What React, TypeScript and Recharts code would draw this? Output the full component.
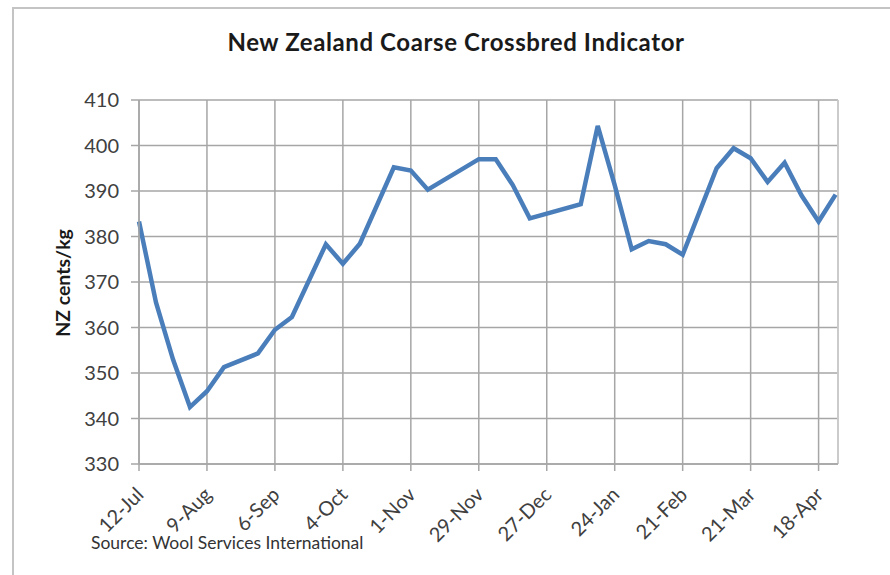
import { LineChart, Line, XAxis, YAxis, CartesianGrid, ReferenceLine } from 'recharts'

// weekly indicator dates (missing weeks are simply skipped, as in the source)
const weeks = [
  '2013-07-12', '2013-07-19', '2013-07-26', '2013-08-02', '2013-08-09', '2013-08-16',
  '2013-08-30', '2013-09-06', '2013-09-13', '2013-09-27', '2013-10-04', '2013-10-11',
  '2013-10-25', '2013-11-01', '2013-11-08', '2013-11-29', '2013-12-06', '2013-12-13',
  '2013-12-20', '2014-01-10', '2014-01-17', '2014-01-24', '2014-01-31', '2014-02-07',
  '2014-02-14', '2014-02-21', '2014-03-07', '2014-03-14', '2014-03-21', '2014-03-28',
  '2014-04-04', '2014-04-11', '2014-04-18', '2014-04-25',
]

// NZ cents/kg
const cents = [
  383.3, 365.5, 353, 342.5, 346, 351.3,
  354.3, 359.5, 362.3, 378.3, 374, 378.4,
  395.2, 394.5, 390.3, 397, 397, 391.3,
  384, 387.1, 404.3, 391.3, 377.2, 379,
  378.3, 376, 395, 399.4, 397.2, 392,
  396.2, 389, 383.3, 389.2,
]

const tickLabels = ['12-Jul', '9-Aug', '6-Sep', '4-Oct', '1-Nov', '29-Nov', '27-Dec', '24-Jan', '21-Feb', '21-Mar', '18-Apr']
const yTicks = [330, 340, 350, 360, 370, 380, 390, 400, 410]

const DAY = 24 * 3600 * 1000
const start = Date.parse(weeks[0])
const data = weeks.map((w, i) => ({ day: Math.round((Date.parse(w) - start) / DAY), value: cents[i] }))
const xTicks = tickLabels.map((_, i) => i * 28)

const FONT = 'Lato, "Open Sans", sans-serif'

function XTick({ x, y, payload }: any) {
  const label = tickLabels[xTicks.indexOf(payload.value)]
  return (
    <g transform={`translate(${x + 1},${y + 18}) rotate(-45)`}>
      <text textAnchor="end" dy="0.35em" fontSize={20} fill="#404040" fontFamily={FONT}>
        {label}
      </text>
    </g>
  )
}

export default function App() {
  return (
    <div style={{ position: 'absolute', left: 0, top: 0, width: 890, height: 575, overflow: 'hidden', background: '#fff', fontFamily: FONT }}>
      <div style={{ position: 'absolute', left: 12, top: 7, width: 900, height: 600, border: '2px solid #c4c4c4' }} />
      <div style={{ position: 'absolute', left: 0, width: 912, top: 27, textAlign: 'center', fontSize: 24, letterSpacing: 0.6, fontWeight: 700, color: '#1a1a1a' }}>
        New Zealand Coarse Crossbred Indicator
      </div>
      <div style={{ position: 'absolute', left: 62, top: 283, transform: 'translate(-50%, -50%) rotate(-90deg)', whiteSpace: 'nowrap', fontSize: 19.5, fontWeight: 700, color: '#1a1a1a' }}>
        NZ cents/kg
      </div>
      <div style={{ position: 'absolute', left: 91, top: 532, fontSize: 17.5, color: '#333' }}>
        Source: Wool Services International
      </div>
      <div style={{ position: 'absolute', left: 0, top: 0 }}>
        <LineChart width={890} height={575} data={data} margin={{ top: 100, right: 52, bottom: 51, left: 0 }}>
          <CartesianGrid stroke="#a6a6a6" strokeWidth={1.5} />
          <XAxis
            dataKey="day"
            type="number"
            domain={[0, 288]}
            ticks={xTicks}
            interval={0}
            height={60}
            stroke="#a6a6a6"
            strokeWidth={1.5}
            tickSize={7}
            tick={<XTick />}
          />
          <YAxis
            domain={[330, 410]}
            ticks={yTicks}
            width={139}
            stroke="#a6a6a6"
            strokeWidth={1.5}
            tickSize={8}
            tickMargin={12}
            tick={{ fill: '#404040', fontSize: 20, fontFamily: FONT }}
          />
          <ReferenceLine x={288} stroke="#d0d0d0" strokeWidth={1.5} />
          <Line type="linear" dataKey="value" stroke="#4a7ebb" strokeWidth={4.5} dot={false} isAnimationActive={false} />
        </LineChart>
      </div>
    </div>
  )
}
